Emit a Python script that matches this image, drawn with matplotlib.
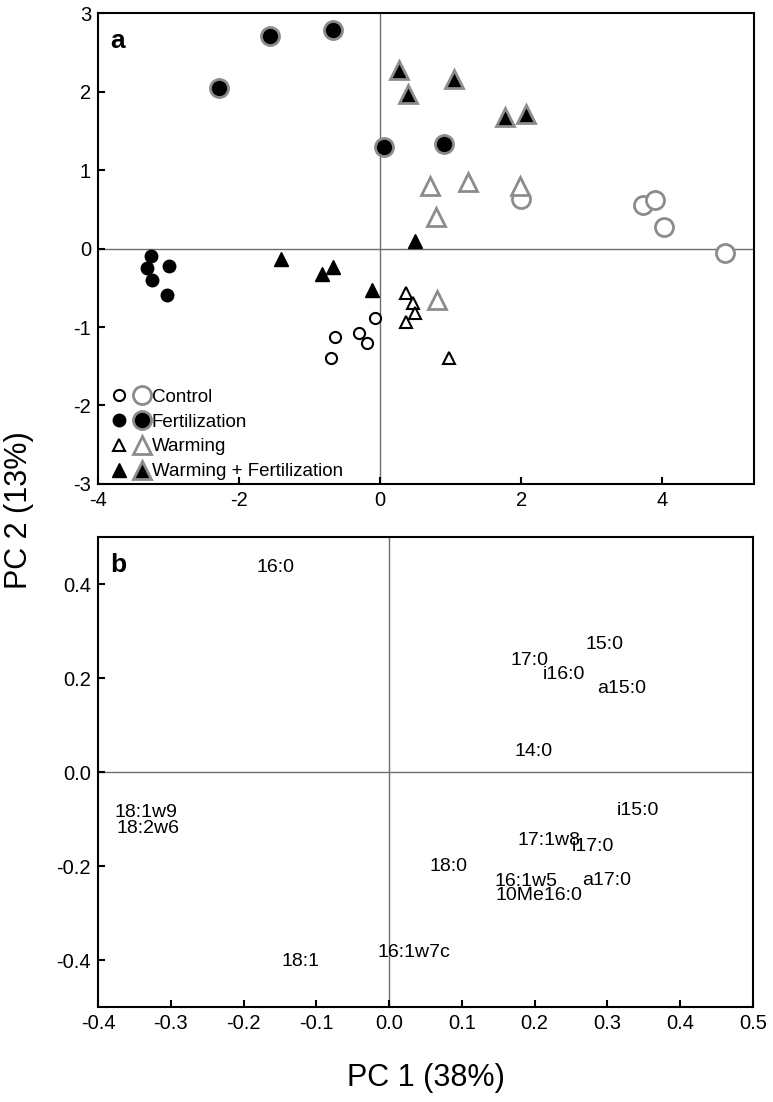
import matplotlib
matplotlib.use("Agg")
import matplotlib.pyplot as plt
from matplotlib.legend_handler import HandlerTuple

plt.rcParams['font.family'] = ['Liberation Sans', 'DejaVu Sans']
plt.rcParams['axes.unicode_minus'] = False

GRAY = '#8c8c8c'

# ---------------- Panel a: sample scores ----------------
# small markers (one sampling) and large gray-edged markers (other sampling)
ctrl_small_x = [-0.07, -0.30, -0.64, -0.18, -0.69]
ctrl_small_y = [-0.88, -1.08, -1.13, -1.21, -1.39]
ctrl_big_x = [2.00, 3.73, 3.90, 4.02, 4.89]
ctrl_big_y = [0.63, 0.55, 0.62, 0.28, -0.06]

fert_small_x = [-3.25, -3.30, -3.00, -3.23, -3.02]
fert_small_y = [-0.09, -0.25, -0.22, -0.40, -0.59]
fert_big_x = [-2.29, -1.56, -0.67, 0.05, 0.91]
fert_big_y = [2.05, 2.71, 2.78, 1.29, 1.33]

warm_small_x = [0.37, 0.47, 0.49, 0.37, 0.97]
warm_small_y = [-0.57, -0.69, -0.82, -0.94, -1.39]
warm_big_x = [0.71, 1.25, 1.98, 0.79, 0.81]
warm_big_y = [0.79, 0.85, 0.80, 0.40, -0.65]

wf_small_x = [-1.40, -0.67, -0.83, -0.12, 0.49]
wf_small_y = [-0.14, -0.23, -0.33, -0.53, 0.09]
wf_big_x = [0.27, 0.40, 1.04, 1.77, 2.07]
wf_big_y = [2.27, 1.97, 2.16, 1.68, 1.71]

legend_labels = ['Control', 'Fertilization', 'Warming', 'Warming + Fertilization']

# ---------------- Panel b: PLFA loadings ----------------
plfa_names = ['16:0', '15:0', '17:0', 'i16:0', 'a15:0', '14:0', 'i15:0',
              '17:1w8', 'i17:0', '18:0', '16:1w5', 'a17:0', '10Me16:0',
              '18:1w9', '18:2w6', '18:1', '16:1w7c']
plfa_x = [-0.182, 0.270, 0.167, 0.211, 0.286, 0.173, 0.313,
          0.176, 0.251, 0.055, 0.145, 0.266, 0.147,
          -0.377, -0.374, -0.148, -0.016]
plfa_y = [0.436, 0.272, 0.238, 0.208, 0.178, 0.043, -0.082,
          -0.145, -0.159, -0.201, -0.233, -0.230, -0.262,
          -0.087, -0.120, -0.404, -0.383]

fig = plt.figure(figsize=(7.73, 11.02), dpi=100)
axa = fig.add_axes([0.1268, 0.5608, 0.8486, 0.4274])
axb = fig.add_axes([0.1268, 0.0862, 0.8470, 0.4265])

TICK_FS = 14.5
LAB_FS = 14
LEG_FS = 13.5

def style(ax):
    for s in ax.spines.values():
        s.set_linewidth(1.5)
        s.set_color('black')
    ax.tick_params(direction='in', length=5, width=1.5, labelsize=TICK_FS, pad=5,
                   top=False, right=False)

# panel a
axa.axhline(0, color='#6e6e6e', lw=1, zorder=1)
axa.axvline(0, color='#6e6e6e', lw=1, zorder=1)

h_cs, = axa.plot(ctrl_small_x, ctrl_small_y, 'o', ms=8, mfc='white', mec='black', mew=1.5, ls='none', zorder=3)
h_cb, = axa.plot(ctrl_big_x, ctrl_big_y, 'o', ms=13, mfc='white', mec=GRAY, mew=2, ls='none', zorder=3)
h_fs, = axa.plot(fert_small_x, fert_small_y, 'o', ms=9, mfc='black', mec='black', mew=1, ls='none', zorder=3)
h_fb, = axa.plot(fert_big_x, fert_big_y, 'o', ms=13, mfc='black', mec=GRAY, mew=2, ls='none', zorder=3)
h_ws, = axa.plot(warm_small_x, warm_small_y, '^', ms=8.5, mfc='white', mec='black', mew=1.5, ls='none', zorder=3)
h_wb, = axa.plot(warm_big_x, warm_big_y, '^', ms=13, mfc='white', mec=GRAY, mew=2, ls='none', zorder=3)
h_xs, = axa.plot(wf_small_x, wf_small_y, '^', ms=9.5, mfc='black', mec='black', mew=1, ls='none', zorder=3)
h_xb, = axa.plot(wf_big_x, wf_big_y, '^', ms=13, mfc='black', mec=GRAY, mew=2, ls='none', zorder=3)

axa.set_xlim(-4, 5.3)
axa.set_ylim(-3, 3)
axa.set_xticks([-4, -2, 0, 2, 4])
axa.set_yticks([-3, -2, -1, 0, 1, 2, 3])
style(axa)
axa.text(0.018, 0.965, 'a', transform=axa.transAxes, fontsize=19, fontweight='bold',
         ha='left', va='top')

leg = axa.legend([(h_cs, h_cb), (h_fs, h_fb), (h_ws, h_wb), (h_xs, h_xb)], legend_labels,
                 handler_map={tuple: HandlerTuple(ndivide=None, pad=0.25)},
                 loc='lower left', bbox_to_anchor=(0.012, 0.0),
                 frameon=False, fontsize=LEG_FS, handlelength=2.2,
                 handletextpad=0.05, labelspacing=0.41, borderaxespad=0.0,
                 borderpad=0.2)

# panel b
axb.axhline(0, color='#6e6e6e', lw=1, zorder=1)
axb.axvline(0, color='#6e6e6e', lw=1, zorder=1)
for name, x, y in zip(plfa_names, plfa_x, plfa_y):
    axb.text(x, y, name, fontsize=LAB_FS, ha='left', va='center')
axb.set_xlim(-0.4, 0.5)
axb.set_ylim(-0.5, 0.5)
axb.set_xticks([-0.4, -0.3, -0.2, -0.1, 0.0, 0.1, 0.2, 0.3, 0.4, 0.5])
axb.set_yticks([-0.4, -0.2, 0.0, 0.2, 0.4])
axb.xaxis.set_major_formatter(matplotlib.ticker.FormatStrFormatter('%.1f'))
axb.yaxis.set_major_formatter(matplotlib.ticker.FormatStrFormatter('%.1f'))
style(axb)
axb.text(0.018, 0.965, 'b', transform=axb.transAxes, fontsize=19, fontweight='bold',
         ha='left', va='top')

fig.text(0.024, 0.537, 'PC 2 (13%)', rotation=90, ha='center', va='center', fontsize=22)
fig.text(0.551, 0.022, 'PC 1 (38%)', ha='center', va='center', fontsize=22)

fig.savefig('out.png', dpi=100)
